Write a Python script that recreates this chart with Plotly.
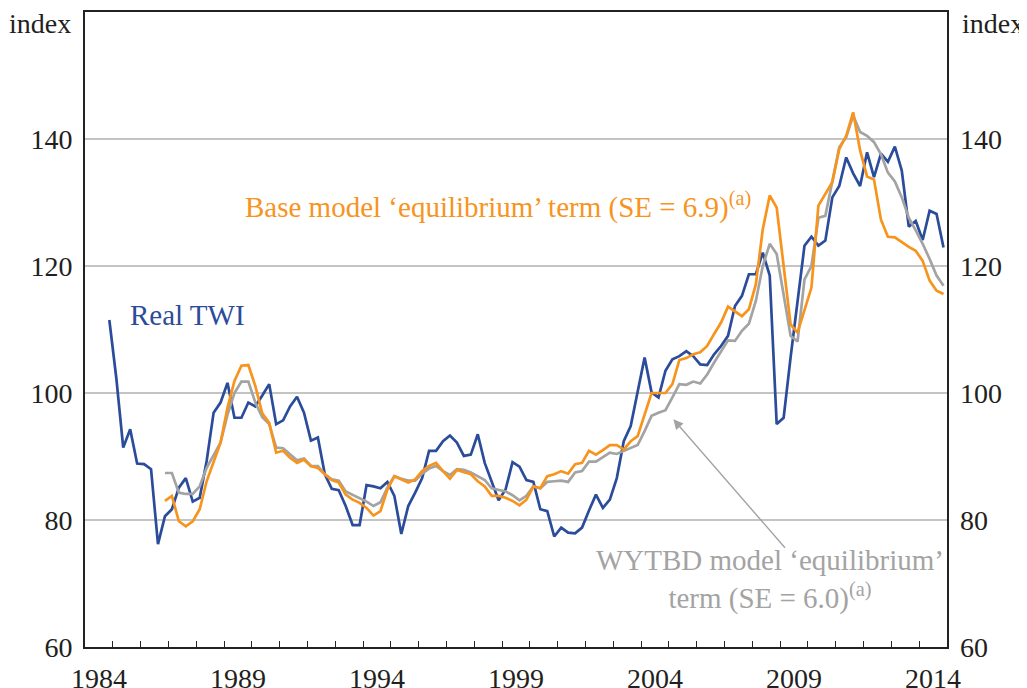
import plotly.graph_objects as go

# ---------------- data (quarterly, index) ----------------
twi_start = (1984, 4)
real_twi = [
    111.5,
    102.4, 91.4, 94.3, 88.9,
    88.8, 88.0, 76.2, 80.6,
    81.7, 85.1, 86.6, 82.9,
    83.5, 89.3, 96.9, 98.5,
    101.6, 96.1, 96.1, 98.5,
    97.9, 99.6, 101.4, 95.1,
    95.7, 97.9, 99.4, 96.9,
    92.5, 93.0, 87.2, 84.9,
    84.7, 82.2, 79.2, 79.2,
    85.5, 85.3, 85.0, 86.0,
    83.8, 77.8, 82.2, 84.3,
    86.6, 90.9, 90.9, 92.4,
    93.3, 92.2, 90.1, 90.3,
    93.5, 89.0, 86.1, 83.1,
    84.8, 89.1, 88.4, 86.3,
    86.0, 81.7, 81.4, 77.4,
    78.8, 78.0, 77.9, 78.8,
    81.5, 84.0, 81.9, 83.2,
    86.6, 92.4, 94.8, 100.1,
    105.6, 100.1, 99.3, 103.5,
    105.3, 105.8, 106.6, 105.8,
    104.5, 104.4, 106.1, 107.4,
    109.0, 113.7, 115.3, 118.7,
    118.7, 122.1, 118.5, 95.1,
    96.1, 105.6, 114.0, 123.2,
    124.6, 123.2, 124.0, 130.8,
    132.6, 137.1, 134.6, 132.6,
    137.9, 134.0, 137.7, 136.4,
    138.8, 135.0, 126.2, 127.1,
    124.1, 128.7, 128.2, 122.9,
]

model_start = (1986, 4)
base_model = [
    83.0,
    83.8, 79.8, 79.0, 79.8,
    81.7, 86.1, 89.3, 92.2,
    97.7, 101.9, 104.3, 104.4,
    101.1, 96.8, 95.3, 90.6,
    90.9, 89.8, 89.0, 89.5,
    88.5, 88.2, 87.2, 86.3,
    85.9, 84.0, 83.2, 82.7,
    81.9, 80.7, 81.4, 84.8,
    86.9, 86.4, 85.9, 86.4,
    87.7, 88.5, 89.0, 87.7,
    86.5, 87.9, 87.6, 87.2,
    86.1, 85.3, 83.8, 83.8,
    83.5, 83.0, 82.3, 83.2,
    85.3, 85.0, 86.9, 87.2,
    87.7, 87.3, 88.8, 89.0,
    90.9, 90.3, 91.0, 91.8,
    91.8, 91.1, 92.4, 93.2,
    96.6, 100.0, 100.0, 100.0,
    101.4, 105.2, 105.5, 106.1,
    106.4, 107.4, 109.3, 111.1,
    113.6, 112.9, 112.1, 113.2,
    117.1, 125.8, 131.1, 129.2,
    119.8, 110.8, 109.5, 112.9,
    116.6, 129.5, 131.4, 133.2,
    138.4, 140.5, 144.2, 138.2,
    134.1, 133.6, 127.3, 124.6,
    124.5, 123.7, 123.0, 122.4,
    120.8, 117.7, 116.1, 115.6,
]

wytbd_model = [
    87.4,
    87.4, 84.3, 84.1, 84.1,
    85.3, 88.2, 90.3, 92.2,
    96.6, 100.0, 101.8, 101.8,
    98.5, 96.2, 95.1, 91.4,
    91.3, 90.3, 89.4, 89.7,
    88.5, 88.5, 87.2, 86.4,
    86.2, 84.5, 84.0, 83.5,
    82.9, 82.2, 82.8, 85.1,
    86.9, 86.5, 86.2, 86.2,
    87.3, 88.1, 88.5, 87.7,
    87.1, 88.0, 87.9, 87.5,
    86.9, 86.3, 85.0, 84.8,
    84.5, 83.9, 83.1, 83.8,
    85.3, 85.0, 86.0, 86.1,
    86.2, 86.0, 87.5, 87.7,
    89.2, 89.2, 89.9, 90.6,
    90.4, 90.9, 91.4, 91.8,
    94.0, 96.4, 96.9, 97.3,
    99.3, 101.4, 101.3, 101.8,
    101.5, 102.9, 104.8, 106.6,
    108.3, 108.2, 109.8, 110.9,
    114.5, 120.0, 123.5, 121.9,
    115.6, 109.0, 108.1, 117.9,
    120.0, 127.6, 127.9, 133.2,
    138.7, 140.3, 143.7, 141.1,
    140.5, 139.5, 137.6, 134.7,
    133.3, 130.8, 127.6, 125.6,
    123.5, 121.1, 118.5, 116.9,
]

year_labels = [1984, 1989, 1994, 1999, 2004, 2009, 2014]
y_ticks = [60, 80, 100, 120, 140]


def quarter_positions(start, n):
    y0, q0 = start
    out = []
    for i in range(n):
        k = (q0 - 1) + i
        out.append(y0 + k // 4 + ((k % 4) + 0.5) / 4.0)
    return out


BLUE = "#2A4C9A"
ORANGE = "#F7941D"
GREY = "#A3A3A3"
TXT = "#231F20"
FONT = "Liberation Serif"
FS = 28
FA = 29

x_twi = quarter_positions(twi_start, len(real_twi))
x_base = quarter_positions(model_start, len(base_model))
x_wytbd = quarter_positions(model_start, len(wytbd_model))

fig = go.Figure()
fig.add_trace(go.Scatter(x=x_twi, y=real_twi, mode="lines",
                         line=dict(color=BLUE, width=2.7), name="Real TWI"))
fig.add_trace(go.Scatter(x=x_wytbd, y=wytbd_model, mode="lines",
                         line=dict(color=GREY, width=2.7), name="WYTBD"))
fig.add_trace(go.Scatter(x=x_base, y=base_model, mode="lines",
                         line=dict(color=ORANGE, width=2.7), name="Base",
                         yaxis="y2"))

fig.add_hline(y=100, line=dict(color="#1a1a1a", width=1.5), layer="below")

# page body has an 8px default margin, so the figure is sized to fit
fig.update_layout(
    width=1019, height=680,
    margin=dict(l=77, r=80, t=4, b=41, autoexpand=False),
    paper_bgcolor="white", plot_bgcolor="white",
    showlegend=False,
    font=dict(family=FONT, size=FS, color=TXT),
    xaxis=dict(
        range=[1984, 2015], automargin=False,
        tickmode="array",
        tickvals=[y + 0.5 for y in year_labels],
        ticktext=[str(y) for y in year_labels],
        ticks="", ticklen=0,
        showgrid=False, zeroline=False,
        showline=True, linecolor="#222", linewidth=2, mirror=True,
        ticklabelstandoff=5,
        tickfont=dict(family=FONT, size=FS, color=TXT),
        minor=dict(tickmode="array", tickvals=list(range(1985, 2015)),
                   ticks="inside", ticklen=6, tickwidth=1.3,
                   tickcolor="#222", showgrid=False),
    ),
    yaxis=dict(
        range=[60, 160], automargin=False,
        tickmode="array", tickvals=y_ticks,
        ticks="", showgrid=True, gridcolor="#C4C4C4", gridwidth=1.5,
        zeroline=False,
        showline=True, linecolor="#222", linewidth=2, mirror=True,
        ticklabelstandoff=5,
        tickfont=dict(family=FONT, size=FS, color=TXT),
    ),
    yaxis2=dict(
        range=[60, 160], overlaying="y", side="right", automargin=False,
        tickmode="array", tickvals=y_ticks,
        ticks="", showgrid=False, zeroline=False,
        showline=False,
        ticklabelstandoff=12,
        tickfont=dict(family=FONT, size=FS, color=TXT),
    ),
)

fig.add_annotation(x=-0.052, y=0.982, xref="paper", yref="paper",
                   xanchor="center", yanchor="middle",
                   text="index", showarrow=False,
                   font=dict(family=FONT, size=FS, color=TXT))
fig.add_annotation(x=1.053, y=0.982, xref="paper", yref="paper",
                   xanchor="center", yanchor="middle",
                   text="index", showarrow=False,
                   font=dict(family=FONT, size=FS, color=TXT))

fig.add_annotation(x=1987.67, y=112.3, xref="x", yref="y",
                   text="Real TWI", showarrow=False,
                   font=dict(family=FONT, size=FA, color=BLUE))

fig.add_annotation(x=1989.69, y=129.6, xref="x", yref="y",
                   xanchor="left", yanchor="middle",
                   text="Base model \u2018equilibrium\u2019 term (SE = 6.9)<sup>(a)</sup>",
                   showarrow=False,
                   font=dict(family=FONT, size=FA, color=ORANGE))

fig.add_annotation(x=2008.64, y=70.6, xref="x", yref="y",
                   xanchor="center", yanchor="middle", align="center",
                   text="WYTBD model \u2018equilibrium\u2019<br>term (SE = 6.0)<sup>(a)</sup>",
                   showarrow=False,
                   font=dict(family=FONT, size=FA, color=GREY))

fig.add_annotation(x=2005.16, y=95.85, xref="x", yref="y",
                   ax=2009.22, ay=75.4, axref="x", ayref="y",
                   text="", showarrow=True, arrowhead=2, arrowsize=1.4,
                   arrowwidth=1.4, arrowcolor=GREY)

fig.write_html("out.html")
